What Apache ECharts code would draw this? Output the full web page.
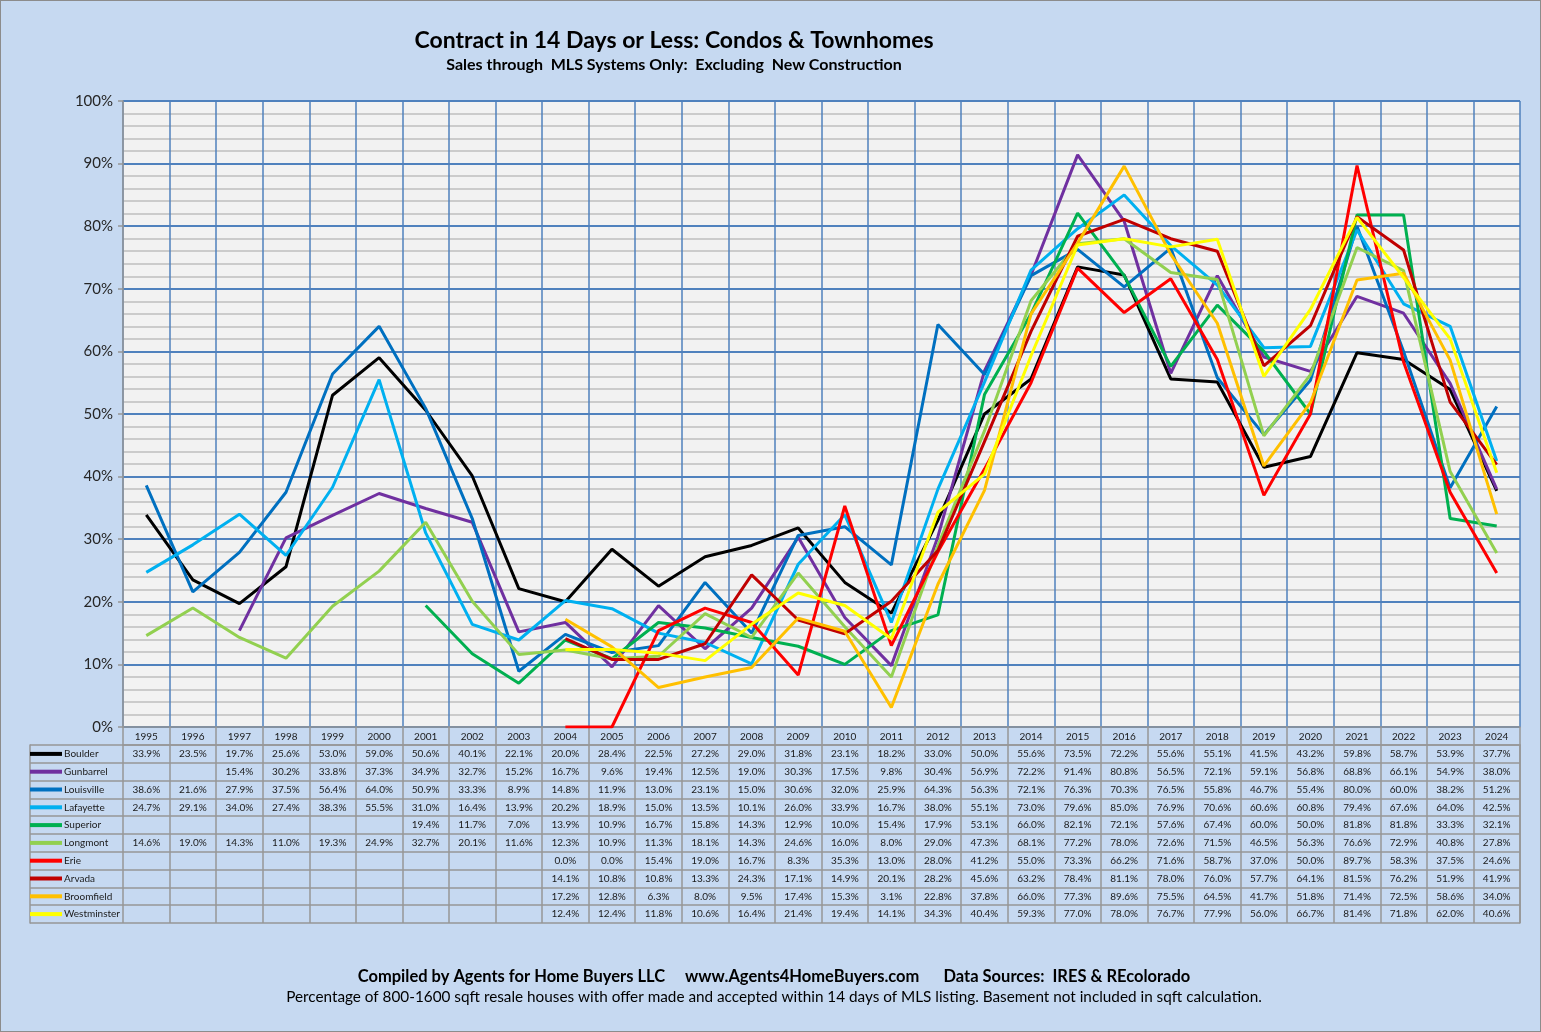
<!DOCTYPE html>
<html>
<head>
<meta charset="utf-8">
<script src="https://cdn.jsdelivr.net/npm/echarts@6/dist/echarts.min.js"></script>
<style>
html,body{margin:0;padding:0;background:#c6d9f1;}
#chart{width:1541px;height:1032px;}
#frame{position:absolute;left:0;top:0;width:1539px;height:1030px;border:1px solid #8c8c8c;pointer-events:none;}
</style>
</head>
<body>
<div id="chart"></div>
<div id="frame"></div>
<script>
const years = ['1995','1996','1997','1998','1999','2000','2001','2002','2003','2004','2005','2006','2007','2008','2009','2010','2011','2012','2013','2014','2015','2016','2017','2018','2019','2020','2021','2022','2023','2024'];
const seriesNames = ['Boulder','Gunbarrel','Louisville','Lafayette','Superior','Longmont','Erie','Arvada','Broomfield','Westminster'];
const seriesColors = ['#000000','#7030a0','#0070c0','#00b0f0','#00b050','#92d050','#ff0000','#c00000','#ffc000','#ffff00'];
const yTicks = [0,10,20,30,40,50,60,70,80,90,100];

const boulder = [33.9,23.5,19.7,25.6,53.0,59.0,50.6,40.1,22.1,20.0,28.4,22.5,27.2,29.0,31.8,23.1,18.2,33.0,50.0,55.6,73.5,72.2,55.6,55.1,41.5,43.2,59.8,58.7,53.9,37.7];
const gunbarrel = [null,null,15.4,30.2,33.8,37.3,34.9,32.7,15.2,16.7,9.6,19.4,12.5,19.0,30.3,17.5,9.8,30.4,56.9,72.2,91.4,80.8,56.5,72.1,59.1,56.8,68.8,66.1,54.9,38.0];
const louisville = [38.6,21.6,27.9,37.5,56.4,64.0,50.9,33.3,8.9,14.8,11.9,13.0,23.1,15.0,30.6,32.0,25.9,64.3,56.3,72.1,76.3,70.3,76.5,55.8,46.7,55.4,80.0,60.0,38.2,51.2];
const lafayette = [24.7,29.1,34.0,27.4,38.3,55.5,31.0,16.4,13.9,20.2,18.9,15.0,13.5,10.1,26.0,33.9,16.7,38.0,55.1,73.0,79.6,85.0,76.9,70.6,60.6,60.8,79.4,67.6,64.0,42.5];
const superior = [null,null,null,null,null,null,19.4,11.7,7.0,13.9,10.9,16.7,15.8,14.3,12.9,10.0,15.4,17.9,53.1,66.0,82.1,72.1,57.6,67.4,60.0,50.0,81.8,81.8,33.3,32.1];
const longmont = [14.6,19.0,14.3,11.0,19.3,24.9,32.7,20.1,11.6,12.3,10.9,11.3,18.1,14.3,24.6,16.0,8.0,29.0,47.3,68.1,77.2,78.0,72.6,71.5,46.5,56.3,76.6,72.9,40.8,27.8];
const erie = [null,null,null,null,null,null,null,null,null,0.0,0.0,15.4,19.0,16.7,8.3,35.3,13.0,28.0,41.2,55.0,73.3,66.2,71.6,58.7,37.0,50.0,89.7,58.3,37.5,24.6];
const arvada = [null,null,null,null,null,null,null,null,null,14.1,10.8,10.8,13.3,24.3,17.1,14.9,20.1,28.2,45.6,63.2,78.4,81.1,78.0,76.0,57.7,64.1,81.5,76.2,51.9,41.9];
const broomfield = [null,null,null,null,null,null,null,null,null,17.2,12.8,6.3,8.0,9.5,17.4,15.3,3.1,22.8,37.8,66.0,77.3,89.6,75.5,64.5,41.7,51.8,71.4,72.5,58.6,34.0];
const westminster = [null,null,null,null,null,null,null,null,null,12.4,12.4,11.8,10.6,16.4,21.4,19.4,14.1,34.3,40.4,59.3,77.0,78.0,76.7,77.9,56.0,66.7,81.4,71.8,62.0,40.6];

const titleText = 'Contract in 14 Days or Less: Condos & Townhomes';
const subtitleText = 'Sales through  MLS Systems Only:  Excluding  New Construction';
const footer1 = 'Compiled by Agents for Home Buyers LLC     www.Agents4HomeBuyers.com      Data Sources:  IRES & REcolorado';
const footer2 = 'Percentage of 800-1600 sqft resale houses with offer made and accepted within 14 days of MLS listing. Basement not included in sqft calculation.';

const allValues = [boulder,gunbarrel,louisville,lafayette,superior,longmont,erie,arvada,broomfield,westminster];

const F = 'Lato, "Open Sans", sans-serif';
const gridBlue = '#4f81bd';
const cellGray = '#969696';

const tableData = [];
allValues.forEach((arr, s) => arr.forEach((v, i) => { if (v !== null) tableData.push([i, s, v]); }));

const rich = { n: { fontSize: 10, fontFamily: F, color: '#1a1a1a', padding: [0,0,0,2] } };
seriesColors.forEach((c, i) => { rich['c' + i] = { width: 32, height: 4, backgroundColor: c }; });

const chart = echarts.init(document.getElementById('chart'), null, { renderer: 'canvas' });

const lineSeries = seriesNames.map((name, i) => ({
  name: name,
  type: 'line',
  xAxisIndex: 0,
  yAxisIndex: 0,
  data: allValues[i],
  symbol: 'none',
  connectNulls: false,
  lineStyle: { color: seriesColors[i], width: 3 },
  itemStyle: { color: seriesColors[i] },
  emphasis: { disabled: true },
  animation: false
}));

chart.setOption({
  backgroundColor: '#c6d9f1',
  animation: false,
  title: [
    { text: titleText, left: 669, top: 24, textAlign: 'center', textStyle: { fontSize: 23, fontWeight: 'bold', fontFamily: F, color: '#000' } },
    { text: subtitleText, left: 669, top: 52, textAlign: 'center', textStyle: { fontSize: 16, fontWeight: 'bold', fontFamily: F, color: '#000' } },
    { text: footer1, left: 769, top: 963, textAlign: 'center', textStyle: { fontSize: 16.5, fontWeight: 'bold', fontFamily: F, color: '#000' } },
    { text: footer2, left: 769, top: 985, textAlign: 'center', textStyle: { fontSize: 15.3, fontWeight: 'normal', fontFamily: F, color: '#000' } }
  ],
  grid: [
    { left: 123, right: 21, top: 101, bottom: 305, show: true, backgroundColor: '#f2f2f2', borderWidth: 0, containLabel: false },
    { left: 123, right: 21, top: 745, height: 178, show: false, containLabel: false }
  ],
  xAxis: [
    {
      type: 'category', gridIndex: 0, data: years, boundaryGap: true,
      axisLine: { show: true, lineStyle: { color: cellGray, width: 1.5 } },
      axisTick: { show: true, interval: 0, length: 18, lineStyle: { color: cellGray, width: 1.5 } },
      axisLabel: { interval: 0, margin: 5, fontSize: 10, fontFamily: F, color: '#1a1a1a' },
      splitLine: { show: true, interval: 0, lineStyle: { color: gridBlue, width: 1.5 } }
    },
    {
      type: 'category', gridIndex: 1, data: years, boundaryGap: true, position: 'top',
      axisLine: { show: true, lineStyle: { color: cellGray, width: 1.5 } },
      axisTick: { show: false }, axisLabel: { show: false },
      splitLine: { show: true, interval: 0, lineStyle: { color: cellGray, width: 1.5 } }
    }
  ],
  yAxis: [
    {
      type: 'value', gridIndex: 0, min: yTicks[0], max: yTicks[yTicks.length - 1], interval: 10,
      axisLine: { show: true, lineStyle: { color: cellGray, width: 1.5 } },
      axisTick: { show: true, length: 5, lineStyle: { color: cellGray, width: 1.5 } },
      axisLabel: { formatter: '{value}%', fontSize: 15, fontFamily: F, color: '#262626', margin: 10 },
      splitLine: { show: true, lineStyle: { color: gridBlue, width: 2 } },
      minorTick: { show: false, splitNumber: 5 },
      minorSplitLine: { show: true, lineStyle: { color: '#bfbfbf', width: 1.5 } }
    },
    {
      type: 'category', gridIndex: 1, data: seriesNames, inverse: true, boundaryGap: true,
      axisLine: { show: false },
      axisTick: { show: true, interval: 0, length: 93, lineStyle: { color: cellGray, width: 1.5 } },
      axisLabel: {
        interval: 0, margin: 93, align: 'left', fontSize: 10, fontFamily: F, color: '#1a1a1a',
        formatter: (val, idx) => '{c' + idx + '|}{n|' + val + '}', rich: rich
      },
      splitLine: { show: true, interval: 0, lineStyle: { color: cellGray, width: 1.5 } }
    },
    {
      type: 'category', gridIndex: 1, data: seriesNames, inverse: true, offset: 93, position: 'left',
      axisLine: { show: true, lineStyle: { color: cellGray, width: 1.5 } },
      axisTick: { show: false }, axisLabel: { show: false }, splitLine: { show: false }
    },
    {
      type: 'category', gridIndex: 1, data: seriesNames, inverse: true, position: 'right',
      axisLine: { show: true, lineStyle: { color: cellGray, width: 1.5 } },
      axisTick: { show: false }, axisLabel: { show: false }, splitLine: { show: false }
    }
  ],
  series: lineSeries.concat([{
    type: 'custom',
    name: 'table',
    xAxisIndex: 1,
    yAxisIndex: 1,
    data: tableData,
    encode: { x: 0, y: 1 },
    silent: true,
    animation: false,
    renderItem: (params, api) => {
      const p = api.coord([api.value(0), api.value(1)]);
      return {
        type: 'text', x: p[0], y: p[1],
        style: { text: api.value(2).toFixed(1) + '%', align: 'center', verticalAlign: 'middle', fontSize: 10, fontFamily: F, fill: '#1a1a1a' }
      };
    }
  }])
});
</script>
</body>
</html>
